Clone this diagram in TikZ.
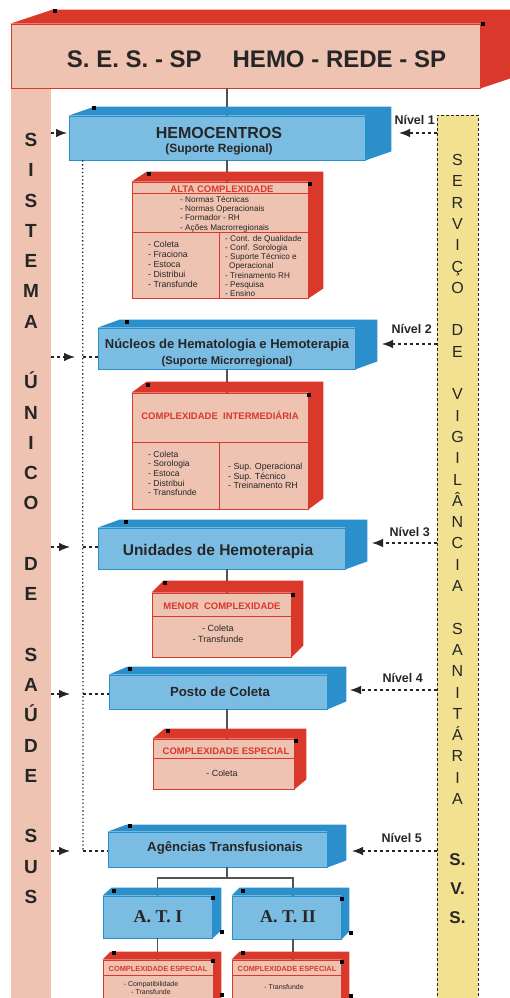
\documentclass[tikz,border=0pt]{standalone}
\usepackage{fontspec}
\setmainfont{Liberation Sans}
\newfontfamily\timesbf{Liberation Serif}
\usetikzlibrary{arrows.meta}

\definecolor{redface}{HTML}{D9382B}
\definecolor{pinkface}{HTML}{EFC3B2}
\definecolor{blueface}{HTML}{2A8FCA}
\definecolor{lightblue}{HTML}{7BBCE2}
\definecolor{svsyellow}{HTML}{F2E190}
\definecolor{inkgray}{HTML}{262626}

\tikzset{
    frontred/.style={draw=redface, fill=pinkface, line width=0.8pt, inner sep=0pt},
    frontblue/.style={draw=blueface, fill=lightblue, line width=0.8pt, inner sep=0pt},
    boxlabel/.style={text=inkgray, inner sep=0pt, align=center},
    redtitle/.style={text=redface, font=\bfseries\fontsize{9.5}{11}\selectfont, inner sep=0pt},
    itemlist/.style={text=inkgray, inner sep=0pt, align=left},
    nivel/.style={text=inkgray, font=\bfseries\fontsize{12.5}{14}\selectfont, inner sep=0pt, anchor=east},
    link/.style={draw=black!68, line width=1.1pt},
    redrule/.style={draw=redface, line width=0.8pt},
    dashlink/.style={draw=inkgray, line width=1.1pt, dash pattern=on 3pt off 3pt},
    dashtip/.style={dashlink, -{Latex[length=11pt,width=8.5pt]}},
    dotlink/.style={draw=inkgray, line width=1.3pt, dash pattern=on 1.3pt off 2.5pt},
}

\newcommand{\depthfaces}[4]{%
    \fill[#4] (#1.north west) -- ++(#2,#3) -- ([shift={(#2,#3)}]#1.north east)
        -- ([shift={(#2,#3)}]#1.south east) -- (#1.south east) -- (#1.north east) -- cycle;}

\begin{document}
\begin{tikzpicture}[x=1pt, y=-1pt]
    \useasboundingbox (0,0) rectangle (510,998);

    % colunas laterais
    \node[fill=pinkface, minimum width=40pt, minimum height=915pt, inner sep=0pt] (sus) at (31,545.5) {};
    \node[draw=inkgray, dash pattern=on 3pt off 2pt, line width=1pt, fill=svsyellow,
          minimum width=41pt, minimum height=890pt, inner sep=0pt] (svs) at (457.5,560) {};

    % caixas
    \node[frontred, minimum width=469pt, minimum height=64pt] (rede) at (245.5,56) {};
    \node[frontblue, minimum width=296pt, minimum height=44pt] (hemo) at (217,138) {};
    \node[frontred, minimum width=176pt, minimum height=116pt] (alta) at (220,240) {};
    \node[frontblue, minimum width=257pt, minimum height=41pt] (nucl) at (226.5,348.5) {};
    \node[frontred, minimum width=176pt, minimum height=116pt] (inter) at (220,451) {};
    \node[frontblue, minimum width=247pt, minimum height=41pt] (unid) at (221.5,548.5) {};
    \node[frontred, minimum width=139pt, minimum height=64pt] (menor) at (221.5,625) {};
    \node[frontblue, minimum width=218pt, minimum height=34pt] (posto) at (218,692) {};
    \node[frontred, minimum width=141pt, minimum height=50pt] (espec) at (223.5,764) {};
    \node[frontblue, minimum width=219pt, minimum height=35pt] (agen) at (217.5,849.5) {};
    \node[frontblue, minimum width=109pt, minimum height=42pt] (ati) at (157.5,917) {};
    \node[frontblue, minimum width=109pt, minimum height=43pt] (atii) at (286.5,917.5) {};
    \node[frontred, minimum width=110pt, minimum height=50pt] (atir) at (158,985) {};
    \node[frontred, minimum width=109pt, minimum height=50pt] (atiir) at (286.5,985) {};

    \coordinate (spine) at (227,0);
    \coordinate (fork) at (227,878);
    \draw[link] (spine |- rede.south) -- (spine |- hemo.north);
    \draw[link] (spine |- hemo.south) -- (spine |- alta.north);
    \draw[link] (spine |- nucl.south) -- (spine |- inter.north);
    \draw[link] (spine |- unid.south) -- (spine |- menor.north);
    \draw[link] (spine |- posto.south) -- (spine |- espec.north);
    \draw[link] (spine |- agen.south) -- (fork);
    \draw[link] (ati.north) |- (fork) -| ([xshift=6.5pt]atii.north);
    \draw[link] (ati.south) -- (ati.south |- atir.north);
    \draw[link] ([xshift=6.5pt]atii.south) -- ([xshift=6.5pt]atii.south |- atiir.north);

    \foreach \b/\dx/\dy/\c in {rede/42/-14/redface, hemo/26/-9/blueface, alta/15/-10/redface,
        nucl/22/-8/blueface, inter/15/-11/redface, unid/22/-8/blueface, menor/12/-12/redface,
        posto/19/-8/blueface, espec/12/-10/redface, agen/19/-7/blueface, ati/9/-8/blueface,
        atii/8/-8/blueface, atir/8/-8/redface, atiir/8/-8/redface}
        \depthfaces{\b}{\dx}{\dy}{\c};

    % divisoes internas
    \draw[redrule] ([yshift=-12pt]alta.north west) -- ([yshift=-12pt]alta.north east);
    \draw[redrule] ([yshift=-50.7pt]alta.north west) -- ([yshift=-50.7pt]alta.north east);
    \draw[redrule] ([xshift=-1pt,yshift=-50.7pt]alta.north) -- ([xshift=-1pt]alta.south);
    \draw[redrule] ([yshift=-50pt]inter.north west) -- ([yshift=-50pt]inter.north east);
    \draw[redrule] ([xshift=-1pt,yshift=-50pt]inter.north) -- ([xshift=-1pt]inter.south);
    \draw[redrule] ([yshift=-24pt]menor.north west) -- ([yshift=-24pt]menor.north east);
    \draw[redrule] ([yshift=-20pt]espec.north west) -- ([yshift=-20pt]espec.north east);
    \draw[redrule] ([yshift=-16pt]atir.north west) -- ([yshift=-16pt]atir.north east);
    \draw[redrule] ([yshift=-16pt]atiir.north west) -- ([yshift=-16pt]atiir.north east);

    % textos
    \node[boxlabel, font=\bfseries\fontsize{24}{28}\selectfont] (redetxt) at (256.5,59.5)
        {S. E. S. - SP\hspace{31pt}HEMO - REDE - SP};
    \node[boxlabel, font=\bfseries\fontsize{16}{14.5}\selectfont] (hemotxt) at (219,141)
        {HEMOCENTROS\\{\fontsize{12}{14.5}\selectfont (Suporte Regional)}};
    \node[boxlabel, font=\bfseries\fontsize{13}{16}\selectfont] (nucltxt) at (227,352.5)
        {Núcleos de Hematologia e Hemoterapia\\{\fontsize{11.2}{16}\selectfont (Suporte Microrregional)}};
    \node[boxlabel, font=\bfseries\fontsize{15.5}{18}\selectfont] (unidtxt) at (218,551) {Unidades de Hemoterapia};
    \node[boxlabel, font=\bfseries\fontsize{13.2}{16}\selectfont] (postotxt) at (220,692) {Posto de Coleta};
    \node[boxlabel, font=\bfseries\fontsize{13.2}{16}\selectfont] (agentxt) at (225,848) {Agências Transfusionais};
    \node[boxlabel, font=\timesbf\bfseries\fontsize{18}{20}\selectfont] (atitxt) at (158,917) {A. T. I};
    \node[boxlabel, font=\timesbf\bfseries\fontsize{18}{20}\selectfont] (atiitxt) at (288,917) {A. T. II};

    \node[redtitle] (altatit) at (222,189) {ALTA COMPLEXIDADE};
    \node[redtitle] (intertit) at (220,415) {COMPLEXIDADE\ \ INTERMEDIÁRIA};
    \node[redtitle] (menortit) at (222,606) {MENOR\ \ COMPLEXIDADE};
    \node[redtitle] (especialtit) at (226,751) {COMPLEXIDADE ESPECIAL};
    \node[redtitle, font=\bfseries\fontsize{7.4}{9}\selectfont] (atirtit) at (158,969) {COMPLEXIDADE ESPECIAL};
    \node[redtitle, font=\bfseries\fontsize{7.4}{9}\selectfont] (atiirtit) at (287,969) {COMPLEXIDADE ESPECIAL};

    \node[itemlist, anchor=west, font=\fontsize{8.2}{9.33}\selectfont] (altatop) at (180,214)
        {- Normas Técnicas\\- Normas Operacionais\\- Formador - RH\\- Ações Macrorregionais};
    \node[itemlist, anchor=west, font=\fontsize{8.8}{10}\selectfont] (altaesq) at (148,264.5)
        {- Coleta\\- Fraciona\\- Estoca\\- Distribui\\- Transfunde};
    \node[itemlist, anchor=west, font=\fontsize{8.2}{9.17}\selectfont] (altadir) at (225,266)
        {- Cont. de Qualidade\\- Conf. Sorologia\\- Suporte Técnico e\\\hspace*{4pt}Operacional\\- Treinamento RH\\- Pesquisa\\- Ensino};
    \node[itemlist, anchor=west, font=\fontsize{8.6}{9.6}\selectfont] (interesq) at (148,473.5)
        {- Coleta\\- Sorologia\\- Estoca\\- Distribui\\- Transfunde};
    \node[itemlist, anchor=west, font=\fontsize{8.8}{9.5}\selectfont] (interdir) at (228,476)
        {- Sup. Operacional\\- Sup. Técnico\\- Treinamento RH};
    \node[boxlabel, font=\fontsize{9}{11}\selectfont] (menortxt) at (218,634) {- Coleta\\- Transfunde};
    \node[boxlabel, font=\fontsize{8.9}{11}\selectfont] (especialtxt) at (222,773) {- Coleta};
    \node[boxlabel, font=\fontsize{7}{8}\selectfont] (atirtxt) at (151,987.5) {- Compatibilidade\\- Transfunde};
    \node[boxlabel, font=\fontsize{7}{8}\selectfont] (atiirtxt) at (284,987) {- Transfunde};

    % letras das colunas
    \node[boxlabel, font=\bfseries\fontsize{19}{30.28}\selectfont] (susletras) at (31,518.5)
        {S\\I\\S\\T\\E\\M\\A\\[30.28pt]Ú\\N\\I\\C\\O\\[30.28pt]D\\E\\[30.28pt]S\\A\\Ú\\D\\E\\[30.28pt]S\\U\\S};
    \node[boxlabel, font=\fontsize{16}{21.3}\selectfont] (svsletras) at (457.5,479.5)
        {S\\E\\R\\V\\I\\Ç\\O\\[21.3pt]D\\E\\[21.3pt]V\\I\\G\\I\\L\\Â\\N\\C\\I\\A\\[21.3pt]S\\A\\N\\I\\T\\Á\\R\\I\\A};
    \node[boxlabel, font=\bfseries\fontsize{17}{29}\selectfont] (svssigla) at (457.5,889) {S.\\V.\\S.};

    % ligacoes tracejadas
    \coordinate (vtop) at ([xshift=14pt]hemo.south west);
    \coordinate (vbot) at (83,851);
    \draw[dotlink] (vtop) -- (vbot);
    \draw[dashlink] (vbot) -- (vbot -| agen.west);
    \foreach \ly/\bx in {357/nucl, 547/unid, 694/posto}
        \draw[dashlink] (vtop |- 0,\ly) -- (\bx.west |- 0,\ly);

    \foreach \ly/\tip [count=\n] in {133/67, 357/75, 547/70, 694/70, 851/70} {
        \coordinate (lt\n) at (\tip,\ly);
        \draw[dashtip] (sus.east |- lt\n) -- (lt\n);
    }
    \foreach \ly/\tip/\lx/\lyy [count=\n] in {133/399/435/120, 344/382/432/329, 543/372/430/532,
        690/350/423/678, 851/352/422/838} {
        \coordinate (rt\n) at (\tip,\ly);
        \draw[dashtip] (svs.west |- rt\n) -- (rt\n);
        \node[nivel] (nivel\n) at (\lx,\lyy) {Nível \n};
    }

    % marcas pretas
    \foreach \hx/\hy in {55/11, 483/24, 94/108, 149/174, 310/184, 127/322, 148/385, 309/395,
        126/522, 165/583, 293/595, 130/669, 168/731, 296/741, 130/826, 114/891, 213/898, 222/932,
        243/891, 342/899, 351/933, 114/953, 213/961, 222/995, 243/953, 342/962, 351/996}
        \fill (\hx-2,\hy-2) rectangle (\hx+2,\hy+2);
\end{tikzpicture}
\end{document}
